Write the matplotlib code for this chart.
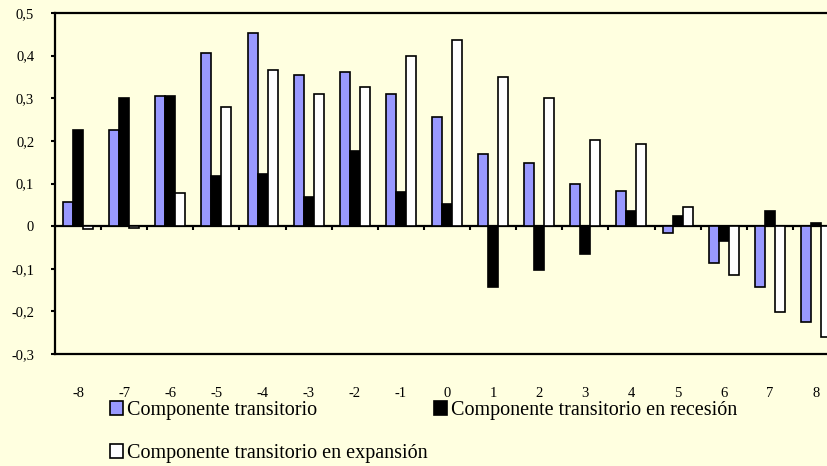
import matplotlib
matplotlib.use("Agg")
import matplotlib.pyplot as plt
import numpy as np
from matplotlib.ticker import FuncFormatter

# Datos
periodos = ['-8', '-7', '-6', '-5', '-4', '-3', '-2', '-1', '0', '1', '2', '3', '4', '5', '6', '7', '8']
transitorio = [0.056, 0.225, 0.305, 0.405, 0.453, 0.354, 0.361, 0.311, 0.257, 0.170, 0.148, 0.100, 0.082, -0.016, -0.086, -0.142, -0.224]
recesion = [0.225, 0.301, 0.305, 0.117, 0.123, 0.068, 0.176, 0.080, 0.052, -0.143, -0.104, -0.066, 0.035, 0.023, -0.035, 0.035, 0.007]
expansion = [-0.006, -0.005, 0.078, 0.279, 0.366, 0.311, 0.327, 0.398, 0.437, 0.350, 0.300, 0.203, 0.192, 0.045, -0.115, -0.202, -0.260]

fondo = '#FFFFE0'
plt.rcParams['font.family'] = ['Liberation Serif', 'DejaVu Serif']

W, H = 827, 466
fig = plt.figure(figsize=(W / 100, H / 100), dpi=100, facecolor=fondo)

# el área del gráfico sobresale por la derecha (recortado como en el original)
izq, der, arr, aba = 55, 839, 13, 354
ax = fig.add_axes([izq / W, (H - aba) / H, (der - izq) / W, (aba - arr) / H])
ax.set_facecolor(fondo)

x = np.arange(len(periodos))
ancho = 0.217
b1 = ax.bar(x - ancho, transitorio, ancho, color='#9999FF', edgecolor='black', linewidth=1.2, zorder=3)
b2 = ax.bar(x, recesion, ancho, color='black', edgecolor='black', linewidth=1.2, zorder=3)
b3 = ax.bar(x + ancho, expansion, ancho, color='white', edgecolor='black', linewidth=1.2, zorder=3)

ax.set_xlim(-0.5, len(periodos) - 0.5)
ax.set_ylim(-0.3, 0.5)
ax.set_yticks(np.arange(-0.3, 0.51, 0.1))


def coma(v, pos):
    if abs(v) < 1e-9:
        return '0'
    return f'{v:.1f}'.replace('.', ',')


ax.yaxis.set_major_formatter(FuncFormatter(coma))
ax.tick_params(axis='y', direction='out', length=3, width=1.5, labelsize=10.5, pad=12)

ax.set_xticks(x)
ax.set_xticklabels(periodos)
ax.tick_params(axis='x', length=0, labelsize=10.5, pad=24)

for s in ax.spines.values():
    s.set_linewidth(1.6)

# eje de categorías sobre el cero
eje0 = ax.secondary_xaxis(0.3 / 0.8)
eje0.set_xticks(np.arange(0.5, len(periodos) - 0.5, 1.0))
eje0.set_xticklabels([])
eje0.tick_params(direction='out', length=3, width=1.5)
eje0.spines['bottom'].set_linewidth(1.6)

fig.legend([b1, b3, b2],
           ['Componente transitorio', 'Componente transitorio en expansión',
            'Componente transitorio en recesión'],
           ncol=2, loc='upper left', bbox_to_anchor=(100 / W, 1 - 391 / H),
           frameon=False, fontsize=14.5, handlelength=0.65, handleheight=0.65,
           handletextpad=0.2, columnspacing=0.3, labelspacing=1.2, borderpad=0)

fig.savefig('out.png', dpi=100, facecolor=fondo)
